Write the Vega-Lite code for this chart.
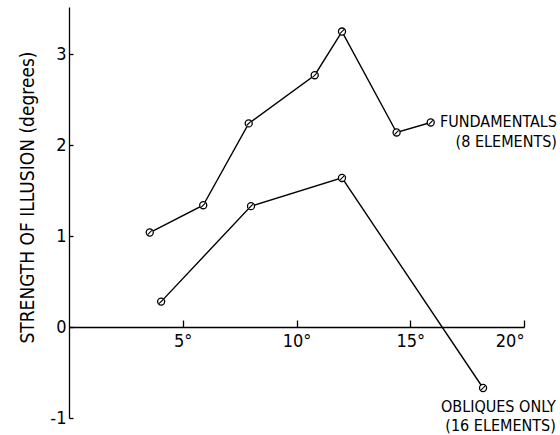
{
  "$schema": "https://vega.github.io/schema/vega-lite/v6.json",
  "width": 455,
  "height": 411,
  "autosize": "none",
  "padding": {"left": 69, "top": 7, "right": 36, "bottom": 17},
  "background": "white",
  "config": {
    "view": {"stroke": null},
    "font": "Liberation Sans Narrow, DejaVu Sans Condensed, DejaVu Sans",
    "axis": {"grid": false, "domainColor": "black", "tickColor": "black", "labelColor": "black", "titleColor": "black", "domainWidth": 1.3, "tickWidth": 1.3, "labelFont": "Liberation Sans Narrow, DejaVu Sans Condensed, DejaVu Sans", "titleFont": "Liberation Sans Narrow, DejaVu Sans Condensed, DejaVu Sans"}
  },
  "datasets": {
    "curves": [
      {"series": "fundamentals", "x": 3.55, "y": 1.04},
      {"series": "fundamentals", "x": 5.9, "y": 1.34},
      {"series": "fundamentals", "x": 7.9, "y": 2.24},
      {"series": "fundamentals", "x": 10.8, "y": 2.77},
      {"series": "fundamentals", "x": 12.0, "y": 3.25},
      {"series": "fundamentals", "x": 14.4, "y": 2.14},
      {"series": "fundamentals", "x": 15.9, "y": 2.25},
      {"series": "obliques", "x": 4.05, "y": 0.28},
      {"series": "obliques", "x": 8.0, "y": 1.33},
      {"series": "obliques", "x": 12.0, "y": 1.64},
      {"series": "obliques", "x": 18.2, "y": -0.67}
    ],
    "labels": [
      {"x": 21.45, "y": 2.2, "text": "FUNDAMENTALS"},
      {"x": 21.45, "y": 1.98, "text": "(8 ELEMENTS)"},
      {"x": 21.4, "y": -0.935, "text": "OBLIQUES ONLY"},
      {"x": 21.4, "y": -1.145, "text": "(16 ELEMENTS)"}
    ]
  },
  "layer": [
    {
      "data": {"name": "curves"},
      "mark": {"type": "line", "color": "black", "strokeWidth": 1.4},
      "encoding": {
        "x": {"field": "x", "type": "quantitative", "scale": {"domain": [0, 20]},
          "axis": {"orient": "bottom", "offset": -91, "values": [5, 10, 15, 20], "tickSize": -7, "labelPadding": 12, "labelFontSize": 18, "labelExpr": "datum.value + '°'", "title": null}},
        "y": {"field": "y", "type": "quantitative", "scale": {"domain": [-1, 3.52], "nice": false},
          "axis": {"values": [-1, 0, 1, 2, 3], "tickSize": -4, "labelPadding": 7, "labelFontSize": 18,
            "labelExpr": "datum.value < 0 ? '-' + abs(datum.value) : '' + datum.value",
            "title": "STRENGTH OF ILLUSION (degrees)", "titleFontSize": 19, "titleFontWeight": "normal", "titleX": -36, "titleY": 190, "titleBaseline": "alphabetic", "titleAngle": -90}},
        "detail": {"field": "series"}
      }
    },
    {
      "data": {"name": "curves"},
      "mark": {"type": "point", "shape": "circle", "filled": true, "fill": "white", "stroke": "black", "strokeWidth": 1.3, "size": 50, "opacity": 1},
      "encoding": {
        "x": {"field": "x", "type": "quantitative"},
        "y": {"field": "y", "type": "quantitative"}
      }
    },
    {
      "data": {"name": "curves"},
      "mark": {"type": "point", "shape": "M -0.6 0.6 L 0.6 -0.6", "filled": false, "stroke": "black", "strokeWidth": 1.1, "size": 50, "opacity": 1},
      "encoding": {
        "x": {"field": "x", "type": "quantitative"},
        "y": {"field": "y", "type": "quantitative"}
      }
    },
    {
      "data": {"name": "labels"},
      "mark": {"type": "text", "align": "right", "baseline": "alphabetic", "fontSize": 16, "color": "black"},
      "encoding": {
        "x": {"field": "x", "type": "quantitative"},
        "y": {"field": "y", "type": "quantitative"},
        "text": {"field": "text"}
      }
    }
  ]
}
